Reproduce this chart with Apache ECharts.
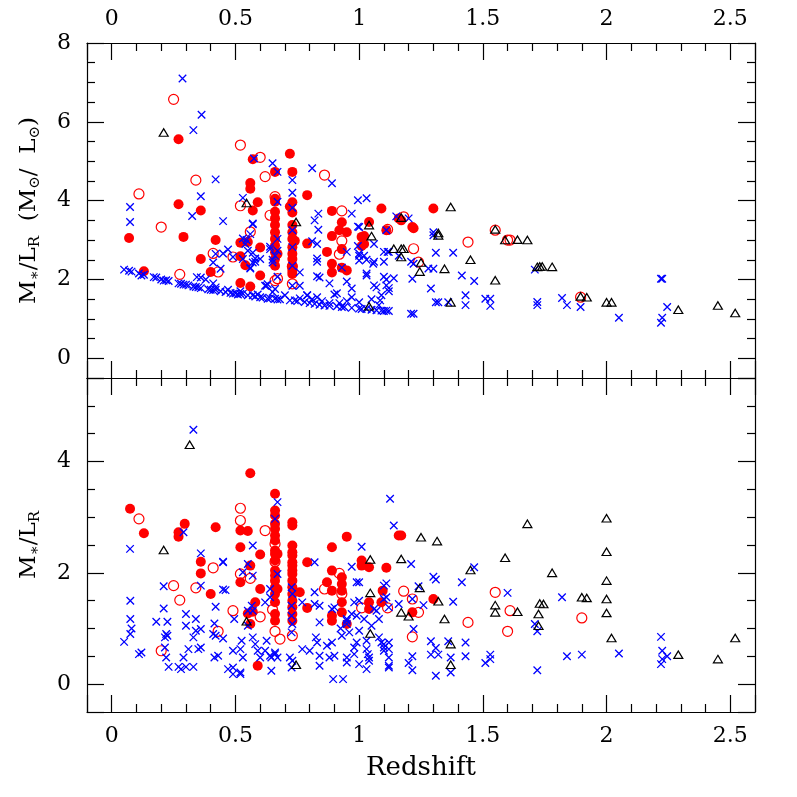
<!DOCTYPE html>
<html>
<head>
<meta charset="utf-8">
<script src="https://cdn.jsdelivr.net/npm/echarts@6/dist/echarts.min.js"></script>
<style>
html, body { margin: 0; padding: 0; background: #fff; }
#chart { width: 797px; height: 797px; }
</style>
</head>
<body>
<div id="chart"></div>
<script>
// ---- top panel: M*/L_R in solar units ----
var topFilled = [
  [0.07,3.05],[0.13,2.21],[0.27,5.56],[0.27,3.91],[0.29,3.08],[0.36,2.52],[0.36,3.75],[0.42,3.0],[0.40,2.19],
  [0.52,2.93],[0.52,2.59],[0.52,1.91],[0.54,2.36],[0.55,2.95],[0.56,4.45],[0.56,4.3],[0.57,5.05],[0.59,3.96],
  [0.57,3.75],[0.56,1.82],[0.60,2.10],[0.60,2.81],
  [0.66,4.73],[0.66,4.05],[0.66,3.97],[0.66,3.72],[0.66,3.55],[0.66,3.38],[0.66,3.2],[0.66,3.03],[0.66,2.86],
  [0.66,2.69],[0.66,2.52],[0.66,2.35],[0.67,2.65],
  [0.72,5.19],[0.73,4.73],[0.73,3.96],[0.72,3.85],[0.73,3.7],[0.73,3.38],[0.73,3.2],[0.73,3.03],[0.73,2.82],
  [0.73,2.65],[0.73,2.52],[0.73,2.35],[0.73,2.22],[0.73,2.14],[0.74,2.98],
  [0.79,4.14],[0.79,2.91],[0.89,3.74],[0.87,2.7],[0.89,2.4],[0.89,2.18],[0.89,3.1],[0.92,3.25],[0.93,3.45],
  [0.95,3.2],[0.93,2.77],[0.95,2.23],[0.93,2.3],[1.01,3.08],[1.01,2.85],[1.04,3.46],[1.02,3.1],[1.02,2.9],
  [1.09,3.8],[1.11,3.25],[1.16,3.55],[1.30,3.8],[1.215,3.33],[1.22,3.3],[1.17,3.5]
];
var topOpen = [
  [0.11,4.17],[0.20,3.33],[0.25,6.57],[0.275,2.13],[0.34,4.52],[0.41,2.66],[0.43,2.19],[0.49,2.57],[0.52,5.41],
  [0.52,3.87],[0.56,3.21],[0.60,5.10],[0.62,4.61],[0.66,4.1],[0.64,3.63],[0.66,1.97],[0.67,2.02],[0.73,1.89],
  [0.73,2.33],[0.86,4.65],[0.93,3.74],[0.93,2.98],[0.92,2.64],[1.115,3.27],[1.18,3.59],[1.22,2.78],[1.24,2.44],
  [1.44,2.95],[1.55,3.25],[1.61,3.0],[1.60,3.0],[1.895,1.55]
];
var topTri = [
  [0.21,5.73],[0.545,3.94],[0.745,3.46],[1.04,3.38],[1.05,3.1],[1.04,1.32],[1.17,3.57],[1.37,3.84],[1.32,3.18],
  [1.32,3.12],[1.14,2.78],[1.17,2.78],[1.18,2.78],[1.17,2.57],[1.25,2.43],[1.245,2.2],[1.345,2.27],[1.45,2.5],
  [1.37,1.42],[1.55,1.98],[1.55,3.27],[1.59,3.0],[1.64,3.01],[1.68,3.0],[1.72,2.32],[1.73,2.33],[1.74,2.33],
  [1.78,2.32],[1.895,1.57],[1.92,1.55],[2.0,1.42],[2.02,1.42],[2.29,1.23],[2.45,1.34],[2.52,1.15]
];
var topCross = [
  // lower envelope
  [0.05,2.25],[0.07,2.22],[0.08,2.2],[0.11,2.15],[0.12,2.1],[0.13,2.12],[0.17,2.06],[0.18,2.05],[0.2,2.0],
  [0.21,1.97],[0.22,1.98],[0.23,1.96],[0.27,1.9],[0.28,1.89],[0.29,1.87],[0.30,1.87],[0.31,1.85],[0.33,1.82],
  [0.34,1.81],[0.35,1.8],[0.36,1.78],[0.39,1.75],[0.40,1.74],[0.41,1.73],[0.42,1.74],[0.44,1.7],[0.46,1.68],
  [0.48,1.66],[0.49,1.64],[0.50,1.65],[0.51,1.62],[0.52,1.63],[0.53,1.64],[0.55,1.6],[0.57,1.6],[0.58,1.57],
  [0.60,1.55],[0.61,1.54],[0.63,1.51],[0.64,1.52],[0.66,1.51],[0.67,1.49],[0.68,1.5],[0.72,1.47],[0.74,1.47],
  [0.75,1.45],[0.78,1.43],[0.80,1.4],[0.82,1.38],[0.84,1.36],[0.86,1.34],[0.88,1.33],[0.91,1.32],[0.93,1.3],
  [0.94,1.3],[0.97,1.28],[1.0,1.26],[1.01,1.25],[1.03,1.25],[1.05,1.23],[1.07,1.22],[1.09,1.21],[1.10,1.2],
  [1.11,1.21],[1.12,1.2],[1.22,1.13],[1.21,1.13],
  [0.38,2.0],[0.42,1.8],[0.47,1.74],[0.52,1.7],[0.59,1.62],[0.62,1.84],[0.65,1.68],[0.7,1.6],[0.76,1.52],
  [0.79,1.6],[0.81,1.5],[0.83,1.55],[0.85,1.45],[0.88,1.4],[0.9,1.62],[0.92,1.4],[0.95,1.45],[0.97,1.55],
  [1.0,1.42],[1.05,1.5],[1.08,1.35],
  // scattered above
  [0.286,7.1],[0.363,6.18],[0.33,5.79],[0.42,4.54],[0.36,4.11],[0.325,3.61],[0.45,3.48],[0.074,3.84],[0.074,3.46],
  [0.575,5.07],[0.65,4.95],[0.67,4.73],[0.73,4.52],[0.73,4.2],[0.73,3.82],[0.81,4.82],[0.89,4.44],[0.53,4.07],
  [0.67,3.97],[0.835,3.67],[0.82,3.5],[0.81,2.97],[0.83,2.53],[0.84,2.05],[0.93,2.3],[0.88,1.9],[0.97,3.67],
  [0.995,4.01],[1.03,4.06],[0.995,3.34],[0.995,2.85],[1.0,2.6],[1.06,2.9],[1.03,2.5],[1.06,2.45],[1.03,2.15],
  [1.06,1.85],[1.09,1.6],[1.10,2.07],[1.115,2.7],[1.11,3.25],[1.15,3.6],[1.14,2.03],[1.12,1.78],[0.545,3.0],
  [0.56,3.15],[0.57,3.4],[0.55,2.73],[0.57,2.43],[0.56,2.28],[0.53,2.52],[0.60,2.52],[0.64,2.77],[0.625,1.84],
  [0.65,2.43],[0.67,2.73],[0.67,3.03],[0.67,2.07],[0.73,3.25],[0.73,2.82],[0.73,2.35],[0.73,1.84],[0.76,1.84],
  [0.76,2.18],[0.79,1.6],[0.41,2.43],[0.42,2.65],[0.47,2.76],[0.44,2.27],[0.41,1.9],[0.36,2.05],[0.49,2.57],
  [0.835,3.26],[0.83,2.9],[0.83,2.45],[0.83,2.08],[0.95,2.7],[1.0,2.66],[1.0,2.48],[1.0,3.33],[1.02,2.6],
  [1.057,2.4],[1.10,2.7],[1.12,2.7],[1.10,2.45],[1.03,2.1],[0.95,1.95],[0.97,1.77],[0.91,1.65],[1.07,1.8],
  [1.11,1.85],[1.12,1.7],[1.11,2.0],[1.085,1.47],[0.53,3.04],[0.54,2.9],[0.57,2.68],[0.58,2.53],[0.56,2.3],
  [0.58,2.45],[0.64,2.83],[0.65,2.5],[0.66,2.6],[0.66,1.76],[0.63,1.88],[0.57,3.42],[0.45,2.66],[0.344,2.06],
  [1.20,3.55],[1.30,3.2],[1.30,3.12],[1.31,2.68],[1.38,2.68],[1.215,2.02],[1.29,1.77],[1.28,2.28],[1.30,2.27],
  [1.415,2.1],[1.465,1.96],[1.43,1.6],[1.43,1.35],[1.51,1.51],[1.53,1.51],[1.53,1.33],[1.31,1.42],[1.32,1.42],
  [1.36,1.42],[1.16,2.6],[1.21,2.45],[1.22,2.4],[1.71,2.25],[1.72,1.43],[1.72,1.35],[1.82,1.53],[1.84,1.35],
  [1.895,1.3],[2.05,1.03],[2.22,2.02],[2.225,2.02],[2.225,1.03],[2.22,0.9],[2.245,1.3]
];

// ---- bottom panel: M*/L_R ----
var botFilled = [
  [0.074,3.15],[0.13,2.71],[0.27,2.73],[0.27,2.65],[0.295,2.88],[0.36,2.2],[0.36,1.99],[0.42,2.82],[0.40,1.62],
  [0.52,2.76],[0.55,2.75],[0.52,2.46],[0.52,1.83],[0.56,2.13],[0.56,3.79],[0.60,2.33],[0.60,1.71],[0.58,1.47],
  [0.57,1.3],[0.55,1.27],[0.56,1.08],[0.59,0.33],
  [0.66,3.42],[0.66,3.12],[0.66,3.03],[0.66,2.88],[0.66,2.79],[0.66,2.67],[0.66,2.58],[0.66,2.4],[0.66,2.34],
  [0.66,2.22],[0.66,2.04],[0.66,1.95],[0.66,1.86],[0.66,1.74],[0.66,1.62],[0.66,1.47],[0.66,1.26],[0.66,1.14],
  [0.67,2.34],[0.67,1.71],
  [0.73,2.91],[0.73,2.85],[0.73,2.49],[0.73,2.37],[0.73,2.31],[0.73,2.19],[0.73,2.13],[0.73,2.04],[0.73,1.98],
  [0.73,1.86],[0.73,1.74],[0.73,1.62],[0.73,1.5],[0.73,1.38],[0.73,1.26],[0.73,1.14],[0.76,1.65],
  [0.79,2.19],[0.79,1.37],[0.89,2.46],[0.89,2.04],[0.87,1.83],[0.89,1.68],[0.89,1.23],[0.89,1.14],[0.93,1.92],
  [0.93,1.8],[0.93,1.68],[0.93,1.47],[0.93,1.29],[0.95,2.65],[0.95,1.08],[1.01,2.22],[1.01,2.13],[1.04,2.1],
  [1.04,1.47],[1.04,1.35],[1.095,1.68],[1.09,1.47],[1.11,2.09],[1.16,2.67],[1.17,2.67],[1.215,1.29],[1.30,1.53]
];
var botOpen = [
  [0.11,2.97],[0.20,0.6],[0.25,1.77],[0.275,1.51],[0.34,1.73],[0.41,2.09],[0.43,0.95],[0.49,1.32],[0.52,3.16],
  [0.52,2.94],[0.52,1.98],[0.56,1.9],[0.60,1.21],[0.62,2.76],[0.65,1.34],[0.66,2.52],[0.66,2.2],[0.66,0.95],
  [0.68,0.81],[0.73,0.87],[0.86,1.71],[0.92,1.99],[0.93,1.62],[1.01,1.37],[1.115,1.37],[1.18,1.67],[1.215,1.53],
  [1.24,1.29],[1.215,0.85],[1.44,1.11],[1.55,1.65],[1.61,1.32],[1.60,0.95],[1.90,1.19]
];
var botTri = [
  [0.315,4.3],[0.21,2.41],[0.545,1.13],[0.745,0.35],[1.045,2.24],[1.045,1.64],[1.045,0.91],[1.17,2.25],
  [1.25,2.64],[1.315,2.57],[1.17,1.29],[1.20,1.22],[1.245,1.73],[1.32,1.49],[1.345,1.17],[1.37,0.72],[1.37,0.35],
  [1.45,2.05],[1.59,2.27],[1.68,2.88],[1.55,1.42],[1.55,1.29],[1.64,1.3],[1.725,1.26],[1.725,1.05],[1.73,1.45],
  [1.745,1.44],[1.78,2.0],[1.90,1.56],[1.92,1.55],[2.0,2.98],[2.0,2.38],[2.0,1.86],[2.0,1.53],[2.0,1.28],
  [2.02,0.83],[2.29,0.53],[2.45,0.45],[2.52,0.83]
];
var botCross = [
  [0.33,4.57],[0.29,2.73],[0.074,2.43],[0.67,3.27],[0.66,2.97],[0.67,1.98],[0.57,2.49],[0.55,2.16],[0.36,2.35],
  [0.45,2.2],[0.45,1.7],[1.01,2.47],[0.97,2.11],[1.125,3.33],[1.14,2.85],[0.82,2.19],[1.0,1.83],[1.11,1.81],
  [1.10,1.53],[1.07,1.32],[1.0,1.5],[0.97,1.26],[0.95,1.14],[0.84,1.11],[0.89,1.35],
  [0.075,1.5],[0.075,1.17],[0.08,1.0],[0.075,0.9],[0.05,0.76],[0.11,0.54],[0.12,0.57],[0.21,1.76],[0.21,1.36],
  [0.18,1.12],[0.225,1.12],[0.22,0.9],[0.225,0.87],[0.215,0.84],[0.215,0.66],[0.22,0.48],[0.23,0.31],[0.27,0.31],
  [0.28,0.27],[0.30,0.31],[0.33,0.31],[0.30,1.26],[0.30,1.05],[0.34,1.17],[0.34,0.96],[0.33,0.84],[0.31,0.63],
  [0.29,0.48],[0.36,1.77],[0.36,0.99],[0.36,0.66],[0.35,0.63],[0.42,1.39],[0.415,1.09],[0.42,0.87],[0.41,0.9],
  [0.415,0.48],[0.43,0.51],[0.45,0.82],[0.46,1.69],[0.45,2.19],[0.49,0.6],[0.495,1.17],[0.525,0.78],[0.52,0.63],
  [0.53,0.48],[0.52,0.21],[0.52,0.18],[0.49,0.18],[0.49,0.3],[0.47,0.27],[0.566,1.41],[0.57,1.32],[0.55,1.32],
  [0.55,1.05],[0.57,0.84],[0.58,0.72],[0.59,0.6],[0.60,0.48],[0.62,0.6],[0.64,0.51],[0.645,0.48],[0.66,0.54],
  [0.66,0.57],[0.67,0.48],[0.645,0.24],[0.626,0.78],[0.64,1.56],[0.64,1.71],[0.53,2.01],[0.57,1.95],[0.62,1.47],
  [0.727,1.74],[0.73,1.62],[0.727,1.41],[0.727,1.23],[0.73,1.08],[0.727,0.93],[0.72,0.48],[0.73,0.42],[0.727,0.3],
  [0.77,1.47],[0.77,0.63],[0.80,0.6],[0.82,1.44],[0.82,1.65],[0.83,0.75],[0.825,0.84],[0.84,0.51],[0.84,0.33],
  [0.84,1.41],[0.87,0.69],[0.88,0.48],[0.90,1.38],[0.89,0.75],[0.90,0.51],[0.895,0.09],[0.935,0.09],[0.925,1.0],
  [0.93,0.87],[0.95,1.17],[0.95,1.08],[0.96,0.93],[0.95,0.39],[0.95,0.48],[0.98,1.47],[0.99,1.83],[0.99,1.23],
  [0.99,0.75],[1.0,0.36],[0.98,0.66],[0.98,0.54],[1.0,0.96],[1.02,1.17],[1.03,0.63],[1.035,0.54],[1.04,0.42],
  [1.04,0.48],[1.03,0.27],[1.03,0.78],[1.05,1.05],[1.06,1.35],[1.08,1.17],[1.09,0.75],[1.10,0.66],[1.10,0.6],
  [1.12,0.75],[1.12,0.48],[1.12,0.63],[1.12,0.3],[1.10,1.77],[1.11,1.56],[1.12,1.38],[1.16,1.44],[1.08,0.84],
  [1.1,0.72],[1.12,0.33],
  [1.21,2.16],[1.24,1.76],[1.30,1.93],[1.31,1.88],[1.26,1.42],[1.215,1.53],[1.22,0.99],[1.215,0.5],[1.20,0.38],
  [1.215,0.25],[1.29,0.77],[1.29,0.53],[1.31,0.65],[1.32,0.53],[1.31,0.15],[1.36,0.77],[1.37,0.48],[1.37,0.21],
  [1.38,1.48],[1.415,1.83],[1.43,0.75],[1.43,0.5],[1.465,2.1],[1.51,0.38],[1.53,0.53],[1.53,0.45],[1.60,1.64],
  [1.71,1.08],[1.72,0.95],[1.72,0.25],[1.82,1.56],[1.84,0.5],[1.90,0.53],[2.05,0.55],[2.22,0.85],[2.225,0.6],
  [2.225,0.45],[2.22,0.36],[2.245,0.5]
];

var font = 'DejaVu Serif';
var crossPath = 'path://M0,0L10,10M10,0L0,10';

var chart = echarts.init(document.getElementById('chart'));

function xAxis(grid, pos, labels, name) {
  return {
    type: 'value', gridIndex: grid, position: pos,
    min: -0.1, max: 2.6, splitNumber: 5,
    axisLine: { show: true, onZero: false, lineStyle: { color: '#000', width: 1.2 } },
    axisTick: { show: true, inside: true, length: 17, lineStyle: { color: '#000', width: 1.2 } },
    minorTick: { show: true, splitNumber: 5, length: 8, lineStyle: { color: '#000', width: 1.2 } },
    splitLine: { show: false },
    axisLabel: { show: labels, showMinLabel: false, showMaxLabel: false, margin: 13,
      fontFamily: font, fontSize: 22, color: '#000' },
    name: name || '', nameLocation: 'middle', nameGap: 43,
    nameTextStyle: { fontFamily: font, fontSize: 26, color: '#000' }
  };
}

function yAxis(grid, pos, max, split, labels, showMax, name, rich) {
  return {
    type: 'value', gridIndex: grid, position: pos,
    min: -0.5, max: max, splitNumber: split,
    axisLine: { show: true, onZero: false, lineStyle: { color: '#000', width: 1.2 } },
    axisTick: { show: true, inside: true, length: 17, lineStyle: { color: '#000', width: 1.2 } },
    minorTick: { show: true, splitNumber: 4, length: 8, lineStyle: { color: '#000', width: 1.2 } },
    splitLine: { show: false },
    axisLabel: { show: labels, showMinLabel: false, showMaxLabel: showMax, margin: 16,
      fontFamily: font, fontSize: 22, color: '#000' },
    name: name || '', nameLocation: 'middle', nameGap: 44, nameRotate: 90,
    nameTextStyle: { fontFamily: font, fontSize: 23, color: '#000', rich: rich }
  };
}

var nameRich = {
  m: { fontFamily: font, fontSize: 23, color: '#000' },
  s: { fontFamily: font, fontSize: 15, color: '#000', padding: [12, 0, 0, 0] }
};

function scatter(data, xi, yi, kind) {
  var s = { type: 'scatter', data: data, xAxisIndex: xi, yAxisIndex: yi, silent: true };
  if (kind === 'filled') {
    s.symbol = 'circle'; s.symbolSize = 10;
    s.itemStyle = { color: '#ff0000', opacity: 1 };
  } else if (kind === 'open') {
    s.symbol = 'circle'; s.symbolSize = 10;
    s.itemStyle = { color: 'rgba(0,0,0,0)', borderColor: '#ff0000', borderWidth: 1.2, opacity: 1 };
  } else if (kind === 'cross') {
    s.symbol = crossPath; s.symbolSize = 7.5;
    s.itemStyle = { color: '#0000ff', borderColor: '#0000ff', borderWidth: 1.3, opacity: 1 };
  } else {
    s.symbol = 'triangle'; s.symbolSize = [9, 7.5];
    s.itemStyle = { color: 'rgba(0,0,0,0)', borderColor: '#000', borderWidth: 1.2, opacity: 1 };
  }
  return s;
}

var option = {
  animation: false,
  backgroundColor: '#fff',
  textStyle: { fontFamily: font },
  grid: [
    { left: 87, top: 43, width: 668, height: 335, outerBoundsMode: 'none' },
    { left: 87, top: 378, width: 668, height: 334, outerBoundsMode: 'none' }
  ],
  xAxis: [
    xAxis(0, 'bottom', false),
    xAxis(0, 'top', true),
    xAxis(1, 'bottom', true, 'Redshift'),
    xAxis(1, 'top', false)
  ],
  yAxis: [
    yAxis(0, 'left', 8, 4, true, true,
      '{m|M}{s|∗}{m|/L}{s|R}{m|  (M}{s|⊙}{m|/  L}{s|⊙}{m|)}', nameRich),
    yAxis(0, 'right', 8, 4, false, false),
    yAxis(1, 'left', 5.5, 3, true, false, '{m|M}{s|∗}{m|/L}{s|R}', nameRich),
    yAxis(1, 'right', 5.5, 3, false, false)
  ],
  series: [
    scatter(topFilled, 0, 0, 'filled'),
    scatter(topOpen, 0, 0, 'open'),
    scatter(topCross, 0, 0, 'cross'),
    scatter(topTri, 0, 0, 'tri'),
    scatter(botFilled, 2, 2, 'filled'),
    scatter(botOpen, 2, 2, 'open'),
    scatter(botCross, 2, 2, 'cross'),
    scatter(botTri, 2, 2, 'tri')
  ]
};
chart.setOption(option);
</script>
</body>
</html>
